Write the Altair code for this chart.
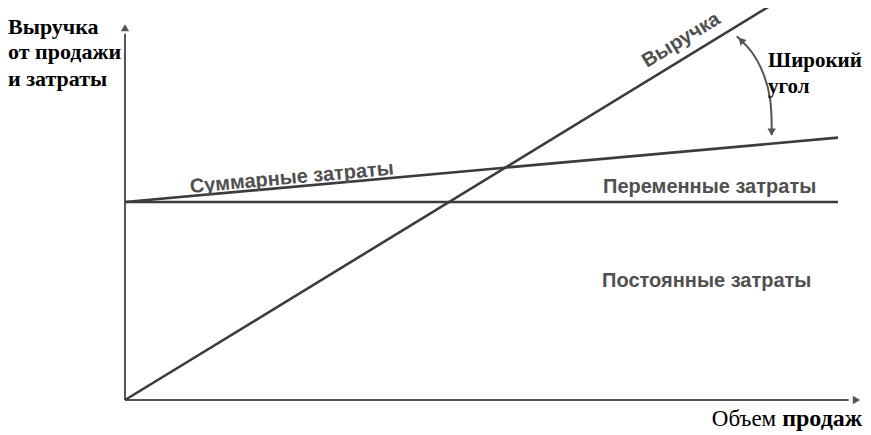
import altair as alt
import pandas as pd

# ---- data (abstract units: sales volume on x, money on y) ----
fixed_cost = 40.0
var_cost_rate = 0.13
price = 0.88
x_max = 100.0

line_series = ["Выручка", "Выручка", "Суммарные", "Суммарные", "Постоянные", "Постоянные"]
line_x = [0.0, 95.0, 0.0, x_max, 0.0, x_max]
line_y = [0.0, price * 95.0, fixed_cost, fixed_cost + var_cost_rate * x_max, fixed_cost, fixed_cost]

# axes (origin + extents)
axis_x = [0.0, 0.0]
axis_y = [0.0, 0.0]
axis_x2 = [0.0, 101.5]
axis_y2 = [74.0, 0.0]

# arrowheads
head_x = [0.0, 102.6, 86.4, 90.7]
head_y = [75.2, 0.0, 72.7, 54.1]
head_shape = ["triangle-up", "triangle-right", "triangle-up", "triangle-down"]
head_angle = [0, 0, 317, 0]

# curved "wide angle" arrow
arc_x = [85.8, 87.9, 89.6, 90.5, 90.7, 90.7]
arc_y = [73.5, 70.3, 65.7, 60.6, 55.6, 53.6]

# grey labels along the lines
lab_text = ["Выручка", "Суммарные затраты", "Переменные затраты", "Постоянные затраты"]
lab_x = [78.0, 23.4, 82.0, 81.6]
lab_y = [72.7, 44.9, 43.0, 24.0]
lab_angle = [328.6, 354.8, 0, 0]

# bold serif annotations
ytitle_text = ["Выручка", "от продажи", "и затраты"]
ytitle_x = [-16.4, -16.4, -16.4]
ytitle_y = [73.9, 68.8, 63.5]

wide_text = ["Широкий", "угол"]
wide_x = [90.2, 90.2]
wide_y = [67.3, 62.0]

xt1_text, xt1_x, xt1_y = ["Объем"], [82.3], [-5.3]
xt2_text, xt2_x, xt2_y = ["продаж"], [103.4], [-5.3]

# ---- scales ----
xs = alt.Scale(domain=[-16.41, 103.51], nice=False, zero=False)
ys = alt.Scale(domain=[-7.07, 79.19], nice=False, zero=False)
X = lambda f="x": alt.X(f"{f}:Q", scale=xs, axis=None)
Y = lambda f="y": alt.Y(f"{f}:Q", scale=ys, axis=None)

LINE = "#3c3c3c"
AX = "#555555"
TXT = "#505050"
SERIF = "Liberation Serif, Times New Roman, serif"

axes = alt.Chart(pd.DataFrame({"x": axis_x, "y": axis_y, "x2": axis_x2, "y2": axis_y2})).mark_rule(
    color=AX, strokeWidth=2
).encode(x=X(), y=Y(), x2="x2:Q", y2="y2:Q")

lines = alt.Chart(pd.DataFrame({"s": line_series, "x": line_x, "y": line_y})).mark_line(
    color=LINE, strokeWidth=2.6, clip=True
).encode(x=X(), y=Y(), detail="s:N")

arc = alt.Chart(pd.DataFrame({"x": arc_x, "y": arc_y, "o": list(range(len(arc_x)))})).mark_line(
    color=AX, strokeWidth=2, interpolate="natural"
).encode(x=X(), y=Y(), order="o:Q")

heads = alt.Chart(pd.DataFrame({"x": head_x, "y": head_y, "sh": head_shape, "a": head_angle})).mark_point(
    filled=True, color=AX, opacity=1, size=70
).encode(
    x=X(), y=Y(),
    shape=alt.Shape("sh:N", scale=None),
    angle=alt.Angle("a:Q", scale=None),
)

labels = alt.Chart(pd.DataFrame({"t": lab_text, "x": lab_x, "y": lab_y, "a": lab_angle})).mark_text(
    font="Liberation Sans", fontSize=20, fontWeight="bold", color=TXT, align="center", baseline="middle"
).encode(x=X(), y=Y(), text="t:N", angle=alt.Angle("a:Q", scale=None))

ytitle = alt.Chart(pd.DataFrame({"t": ytitle_text, "x": ytitle_x, "y": ytitle_y})).mark_text(
    align="left", font=SERIF, fontWeight="bold", fontSize=22, color="#000000", baseline="alphabetic"
).encode(x=X(), y=Y(), text="t:N")

wide = alt.Chart(pd.DataFrame({"t": wide_text, "x": wide_x, "y": wide_y})).mark_text(
    align="left", font=SERIF, fontWeight="bold", fontSize=21, color="#000000", baseline="alphabetic"
).encode(x=X(), y=Y(), text="t:N")

xt1 = alt.Chart(pd.DataFrame({"t": xt1_text, "x": xt1_x, "y": xt1_y})).mark_text(
    align="left", font=SERIF, fontSize=23, color="#000000", baseline="alphabetic"
).encode(x=X(), y=Y(), text="t:N")

xt2 = alt.Chart(pd.DataFrame({"t": xt2_text, "x": xt2_x, "y": xt2_y})).mark_text(
    align="right", font=SERIF, fontWeight="bold", fontSize=24, color="#000000", baseline="alphabetic"
).encode(x=X(), y=Y(), text="t:N")

chart = alt.layer(axes, lines, arc, heads, labels, ytitle, wide, xt1, xt2).properties(
    width=855, height=427, autosize=alt.AutoSizeParams(type="none"), padding=0,
    background="#ffffff",
).configure_view(stroke=None)

chart.save("out.html", embed_options={"renderer": "svg", "actions": False})
